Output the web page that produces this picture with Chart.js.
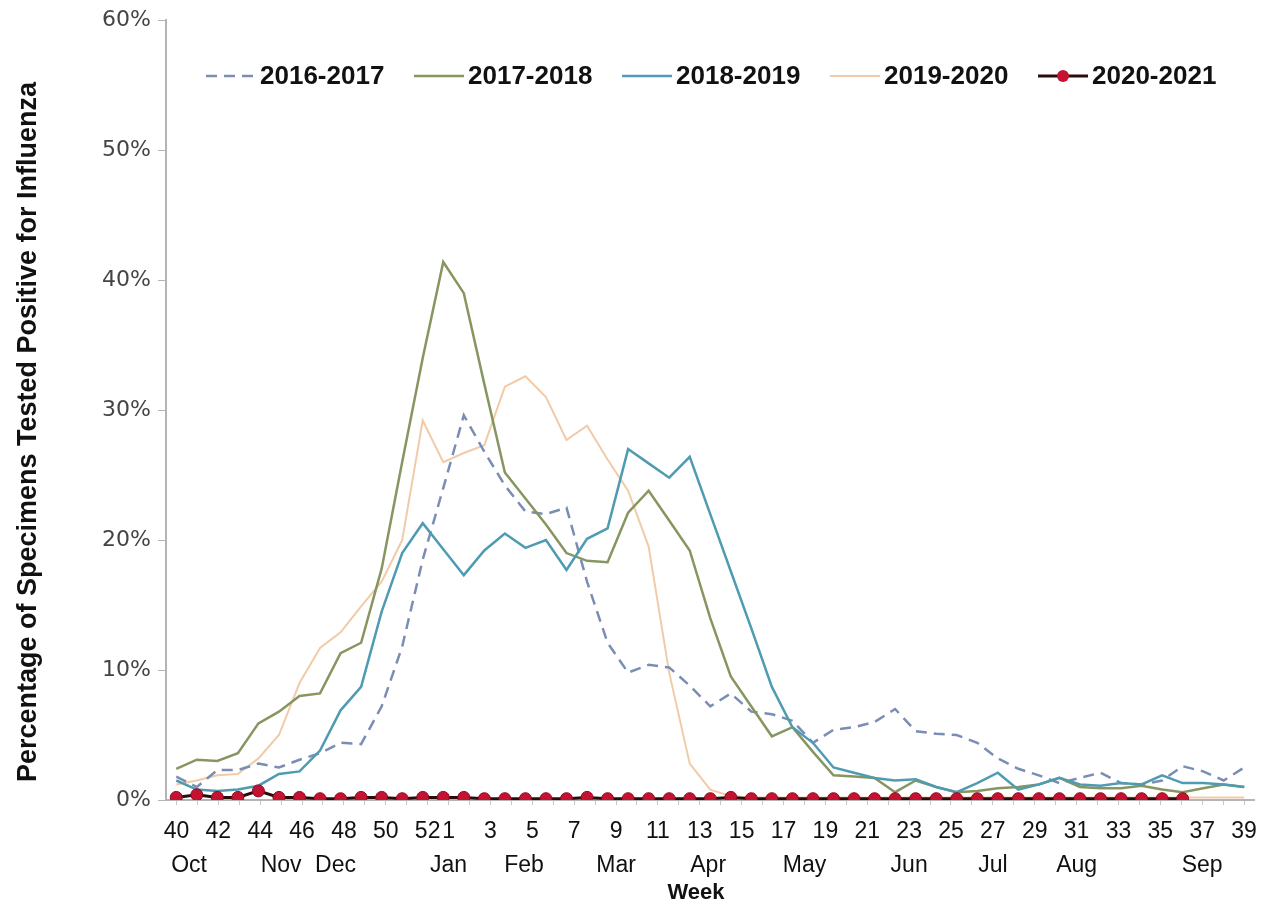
<!DOCTYPE html>
<html>
<head>
<meta charset="utf-8">
<title>Influenza positivity by week</title>
<script src="https://cdn.jsdelivr.net/npm/chart.js@4.4.1/dist/chart.umd.min.js"></script>
<style>
	html, body { margin: 0; padding: 0; background: #fff; }
	#wrap { width: 1270px; height: 907px; position: relative; }
</style>
</head>
<body>
<div id="wrap"><canvas id="fluChart"></canvas></div>
<script>
// data block: the series hold 53 weekly points (weeks 40..53, then 1..39)
const dataWeeks = [40, 41, 42, 43, 44, 45, 46, 47, 48, 49, 50, 51, 52, 53,
	1, 2, 3, 4, 5, 6, 7, 8, 9, 10, 11, 12, 13, 14, 15, 16, 17, 18, 19, 20,
	21, 22, 23, 24, 25, 26, 27, 28, 29, 30, 31, 32, 33, 34, 35, 36, 37, 38, 39];

// the printed axis only has 52 week slots
const axisWeeks = [40, 41, 42, 43, 44, 45, 46, 47, 48, 49, 50, 51, 52,
	1, 2, 3, 4, 5, 6, 7, 8, 9, 10, 11, 12, 13, 14, 15, 16, 17, 18, 19, 20,
	21, 22, 23, 24, 25, 26, 27, 28, 29, 30, 31, 32, 33, 34, 35, 36, 37, 38, 39];

const seasons = ['2016-2017', '2017-2018', '2018-2019', '2019-2020', '2020-2021'];

const pct1617 = [1.8, 1.0, 2.3, 2.3, 2.8, 2.5, 3.1, 3.6, 4.4, 4.3, 7.2, 11.8, 18.5,
	24.0, 29.6, 26.8, 24.2, 22.2, 22.0, 22.5, 16.8, 12.1, 9.8, 10.4, 10.2, 8.8,
	7.2, 8.2, 6.8, 6.6, 6.1, 4.4, 5.4, 5.6, 6.0, 7.0, 5.3, 5.1,
	5.0, 4.4, 3.2, 2.4, 1.9, 1.3, 1.7, 2.1, 1.3, 1.2, 1.5, 2.6, 2.2, 1.5, 2.5];

const pct1718 = [2.4, 3.1, 3.0, 3.6, 5.9, 6.8, 8.0, 8.2, 11.3, 12.1, 17.8, 26.0, 34.0,
	41.4, 39.0, 32.0, 25.2, 23.2, 21.2, 19.0, 18.4, 18.3, 22.1, 23.8, 21.5, 19.2,
	14.0, 9.5, 7.2, 4.9, 5.6, 3.7, 1.9, 1.8, 1.7, 0.6, 1.5, 1.0,
	0.6, 0.7, 0.9, 1.0, 1.2, 1.7, 1.0, 0.9, 0.9, 1.1, 0.8, 0.6, 0.9, 1.2, 1.0];

const pct1819 = [1.5, 0.8, 0.7, 0.8, 1.1, 2.0, 2.2, 3.8, 6.9, 8.7, 14.5, 19.0, 21.3,
	19.3, 17.3, 19.2, 20.5, 19.4, 20.0, 17.7, 20.1, 20.9, 27.0, 25.9, 24.8, 26.4,
	22.0, 17.6, 13.2, 8.7, 5.6, 4.4, 2.5, 2.1, 1.7, 1.5, 1.6, 1.0,
	0.6, 1.3, 2.1, 0.8, 1.2, 1.7, 1.2, 1.1, 1.3, 1.2, 1.9, 1.3, 1.3, 1.2, 1.0];

const pct1920 = [1.2, 1.5, 1.9, 2.0, 3.2, 5.0, 9.0, 11.7, 12.9, 14.9, 16.8, 20.0, 29.2,
	26.0, 26.7, 27.3, 31.8, 32.6, 31.0, 27.7, 28.8, 26.2, 23.8, 19.5, 9.8, 2.8,
	0.8, 0.3, 0.2, 0.2, 0.2, 0.2, 0.2, 0.2, 0.2, 0.2, 0.2, 0.2,
	0.2, 0.2, 0.2, 0.2, 0.2, 0.2, 0.2, 0.2, 0.2, 0.2, 0.2, 0.2, 0.2, 0.2, 0.2];

const pct2021 = [0.2, 0.4, 0.2, 0.2, 0.7, 0.2, 0.2, 0.1, 0.1, 0.2, 0.2, 0.1, 0.2,
	0.2, 0.2, 0.1, 0.1, 0.1, 0.1, 0.1, 0.2, 0.1, 0.1, 0.1, 0.1, 0.1,
	0.1, 0.2, 0.1, 0.1, 0.1, 0.1, 0.1, 0.1, 0.1, 0.1, 0.1, 0.1,
	0.1, 0.1, 0.1, 0.1, 0.1, 0.1, 0.1, 0.1, 0.1, 0.1, 0.1, 0.1, null, null, null];

const yTicks = [0, 10, 20, 30, 40, 50, 60];

// month names and the week (on the printed axis) they sit under
const monthNames = ['Oct', 'Nov', 'Dec', 'Jan', 'Feb', 'Mar', 'Apr', 'May', 'Jun', 'Jul', 'Aug', 'Sep'];
const monthWeeks = [40.6, 45, 47.6, 1, 4.6, 9, 13.4, 18, 23, 27, 31, 37];

// week number -> slot on the printed 52-week axis
const axisSlot = (w) => (w >= 40 ? w - 40 : w + 12);

const FONT = '"Liberation Sans", Arial, sans-serif';
const NARROW = '"Liberation Sans Narrow", "Arial Narrow", "Liberation Sans", Arial, sans-serif';

// setup block
const data = {
	labels: dataWeeks,
	datasets: [
		{
			label: seasons[0],
			data: pct1617,
			borderColor: '#7a8db5',
			borderWidth: 2.5,
			borderDash: [11, 7],
			pointRadius: 0,
			order: 4,
		},
		{
			label: seasons[1],
			data: pct1718,
			borderColor: '#879660',
			borderWidth: 2.5,
			pointRadius: 0,
			order: 3,
		},
		{
			label: seasons[2],
			data: pct1819,
			borderColor: '#4f9bb2',
			borderWidth: 2.5,
			pointRadius: 0,
			order: 2,
		},
		{
			label: seasons[3],
			data: pct1920,
			borderColor: '#f1cba8',
			borderWidth: 2,
			pointRadius: 0,
			order: 5,
		},
		{
			label: seasons[4],
			data: pct2021,
			borderColor: '#2a0c0c',
			borderWidth: 3,
			pointRadius: 6,
			pointBackgroundColor: '#c41230',
			pointBorderColor: '#8e0b1f',
			pointBorderWidth: 1,
			order: 0,
		},
	],
};

// legend, month names and axis titles drawn on the canvas
const extras = {
	id: 'extras',
	afterDraw(chart) {
		const { ctx, scales: { xAxis } } = chart;
		ctx.save();

		// legend inside the plot
		ctx.font = 'bold 26px ' + FONT;
		ctx.textBaseline = 'middle';
		ctx.textAlign = 'left';
		let lx = 206;
		const ly = 76;
		chart.data.datasets.forEach((ds) => {
			ctx.strokeStyle = ds.borderColor;
			ctx.lineWidth = ds.borderWidth;
			ctx.setLineDash(ds.borderDash || []);
			ctx.beginPath();
			ctx.moveTo(lx, ly);
			ctx.lineTo(lx + 50, ly);
			ctx.stroke();
			ctx.setLineDash([]);
			if (ds.pointRadius > 0) {
				ctx.fillStyle = ds.pointBackgroundColor;
				ctx.beginPath();
				ctx.arc(lx + 25, ly, ds.pointRadius, 0, Math.PI * 2);
				ctx.fill();
			}
			ctx.fillStyle = '#111';
			ctx.fillText(ds.label, lx + 54, ly + 1);
			lx += 208;
		});

		// month names
		ctx.font = '23px ' + NARROW;
		ctx.fillStyle = '#111';
		ctx.textAlign = 'center';
		monthNames.forEach((m, k) => {
			ctx.fillText(m, xAxis.getPixelForValue(axisSlot(monthWeeks[k])), 866);
		});

		// x title
		ctx.font = 'bold 22px ' + FONT;
		ctx.fillText('Week', 696, 893);

		// y title
		ctx.translate(29, 432);
		ctx.rotate(-Math.PI / 2);
		ctx.font = 'bold 27px ' + FONT;
		ctx.fillText('Percentage of Specimens Tested Positive for Influenza', 0, 0);
		ctx.restore();
	},
};

// config block
const config = {
	type: 'line',
	data,
	options: {
		responsive: true,
		maintainAspectRatio: false,
		animation: false,
		layout: { padding: { top: 20, right: 9, left: 0, bottom: 0 } },
		plugins: {
			legend: { display: false },
			tooltip: { enabled: false },
		},
		elements: { line: { tension: 0 } },
		scales: {
			x: {
				display: false,
				offset: true,
			},
			xAxis: {
				type: 'category',
				position: 'bottom',
				labels: axisWeeks,
				offset: true,
				afterFit: (scale) => { scale.height = 107; },
				grid: {
					drawOnChartArea: false,
					drawTicks: true,
					tickLength: 5,
					color: '#c8c8c8',
				},
				border: { color: '#b4b4b4', width: 2 },
				ticks: {
					autoSkip: false,
					maxRotation: 0,
					padding: 13,
					color: '#111',
					font: { family: NARROW, size: 23 },
					callback: (val, i) => ((i <= 12 ? i % 2 === 0 : i % 2 === 1) ? axisWeeks[i] : ''),
				},
			},
			y: {
				min: yTicks[0],
				max: yTicks[yTicks.length - 1],
				afterFit: (scale) => { scale.width = 166; },
				afterBuildTicks: (scale) => { scale.ticks = yTicks.map((v) => ({ value: v })); },
				grid: {
					drawOnChartArea: false,
					drawTicks: true,
					tickLength: 8,
					color: '#b4b4b4',
				},
				border: { color: '#b4b4b4', width: 2 },
				ticks: {
					padding: 7,
					color: '#444',
					font: { family: '"DejaVu Sans", Verdana, sans-serif', size: 22 },
					callback: (v) => v + '%',
				},
			},
		},
	},
	plugins: [extras],
};

// render / init block
const fluChart = new Chart(document.getElementById('fluChart'), config);
</script>
</body>
</html>
